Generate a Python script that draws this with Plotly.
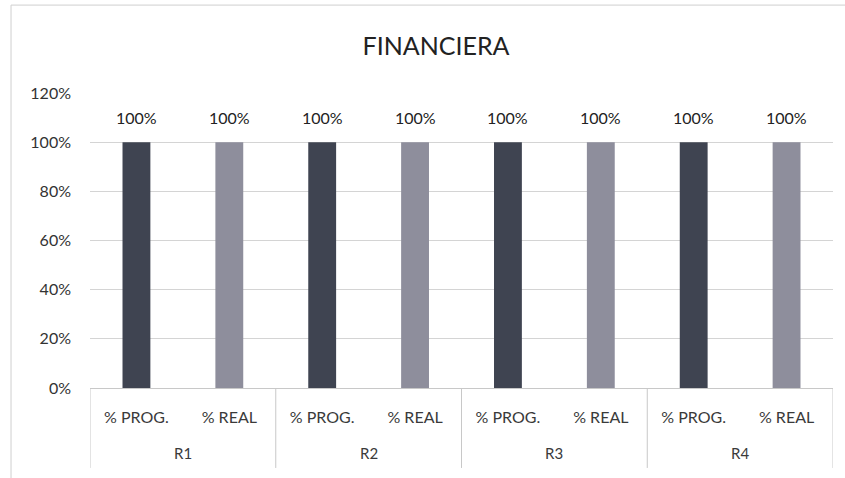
import plotly.graph_objects as go

# datos
grupos = ["R1", "R2", "R3", "R4"]
series = ["% PROG.", "% REAL"]
valores = [1.0, 1.0, 1.0, 1.0, 1.0, 1.0, 1.0, 1.0]
etiquetas = ["100%"] * 8
y_ticks = [0, 0.2, 0.4, 0.6, 0.8, 1.0, 1.2]
y_ticktext = ["0%", "20%", "40%", "60%", "80%", "100%", "120%"]

COLORES = {"% PROG.": "#3f4451", "% REAL": "#8e8e9c"}
FUENTE = "Lato, Open Sans, sans-serif"

nivel2 = [s for _ in grupos for s in series]
pos = list(range(len(nivel2)))
n = len(series)

fig = go.Figure()
fig.add_trace(go.Bar(
    x=pos,
    y=valores,
    marker=dict(color=[COLORES[s] for s in nivel2], line=dict(width=0)),
    width=0.3,
    showlegend=False,
    hovertemplate="%{y:.0%}<extra></extra>",
))

# etiquetas de datos
for x, v, t in zip(pos, valores, etiquetas):
    fig.add_annotation(x=x, y=v, xref="x", yref="y", text=t, showarrow=False,
                       yshift=25, yanchor="middle",
                       font=dict(size=16, color="#222222"))

# etiquetas de grupo (R1..R4) y divisores
for i, g in enumerate(grupos):
    fig.add_annotation(x=i * n + (n - 1) / 2, y=0, xref="x", yref="paper",
                       text=g, showarrow=False, yshift=-65, yanchor="middle",
                       font=dict(size=15, color="#3a3a3a"))
for i in range(len(grupos) + 1):
    fig.add_shape(type="line", xref="x", yref="paper",
                  x0=i * n - 0.5, x1=i * n - 0.5, y0=0, y1=-0.271,
                  line=dict(color="#c8c8c8", width=1))

fig.update_layout(
    title=dict(text="FINANCIERA", x=0.516, xanchor="center", y=0.904, yanchor="middle",
               font=dict(size=25, color="#222222")),
    width=845, height=478,
    margin=dict(l=90, r=12, t=93, b=90),
    paper_bgcolor="white",
    plot_bgcolor="white",
    font=dict(family=FUENTE, size=15, color="#333333"),
)
fig.update_xaxes(
    range=[-0.5, len(pos) - 0.5],
    tickvals=pos, ticktext=nivel2,
    showline=True, linecolor="#c8c8c8", linewidth=1,
    showgrid=False, zeroline=False,
    ticks="", ticklabelstandoff=15,
    tickfont=dict(size=16, color="#3a3a3a"),
)
fig.update_yaxes(
    range=[0, 1.2], tickvals=y_ticks, ticktext=y_ticktext,
    showgrid=True, gridcolor="#d4d4d4", gridwidth=1,
    zeroline=False, showline=False,
    ticks="", ticklabelstandoff=18,
    tickfont=dict(size=16, color="#333333"),
)
# borde del gráfico
fig.add_shape(type="rect", xref="paper", yref="paper", x0=-0.1063, x1=1.2, y0=-0.6, y1=1.298,
              line=dict(color="#cfcfcf", width=1))

fig.write_html("out.html", config={"displayModeBar": False},
               post_script="document.body.style.margin='0';")
